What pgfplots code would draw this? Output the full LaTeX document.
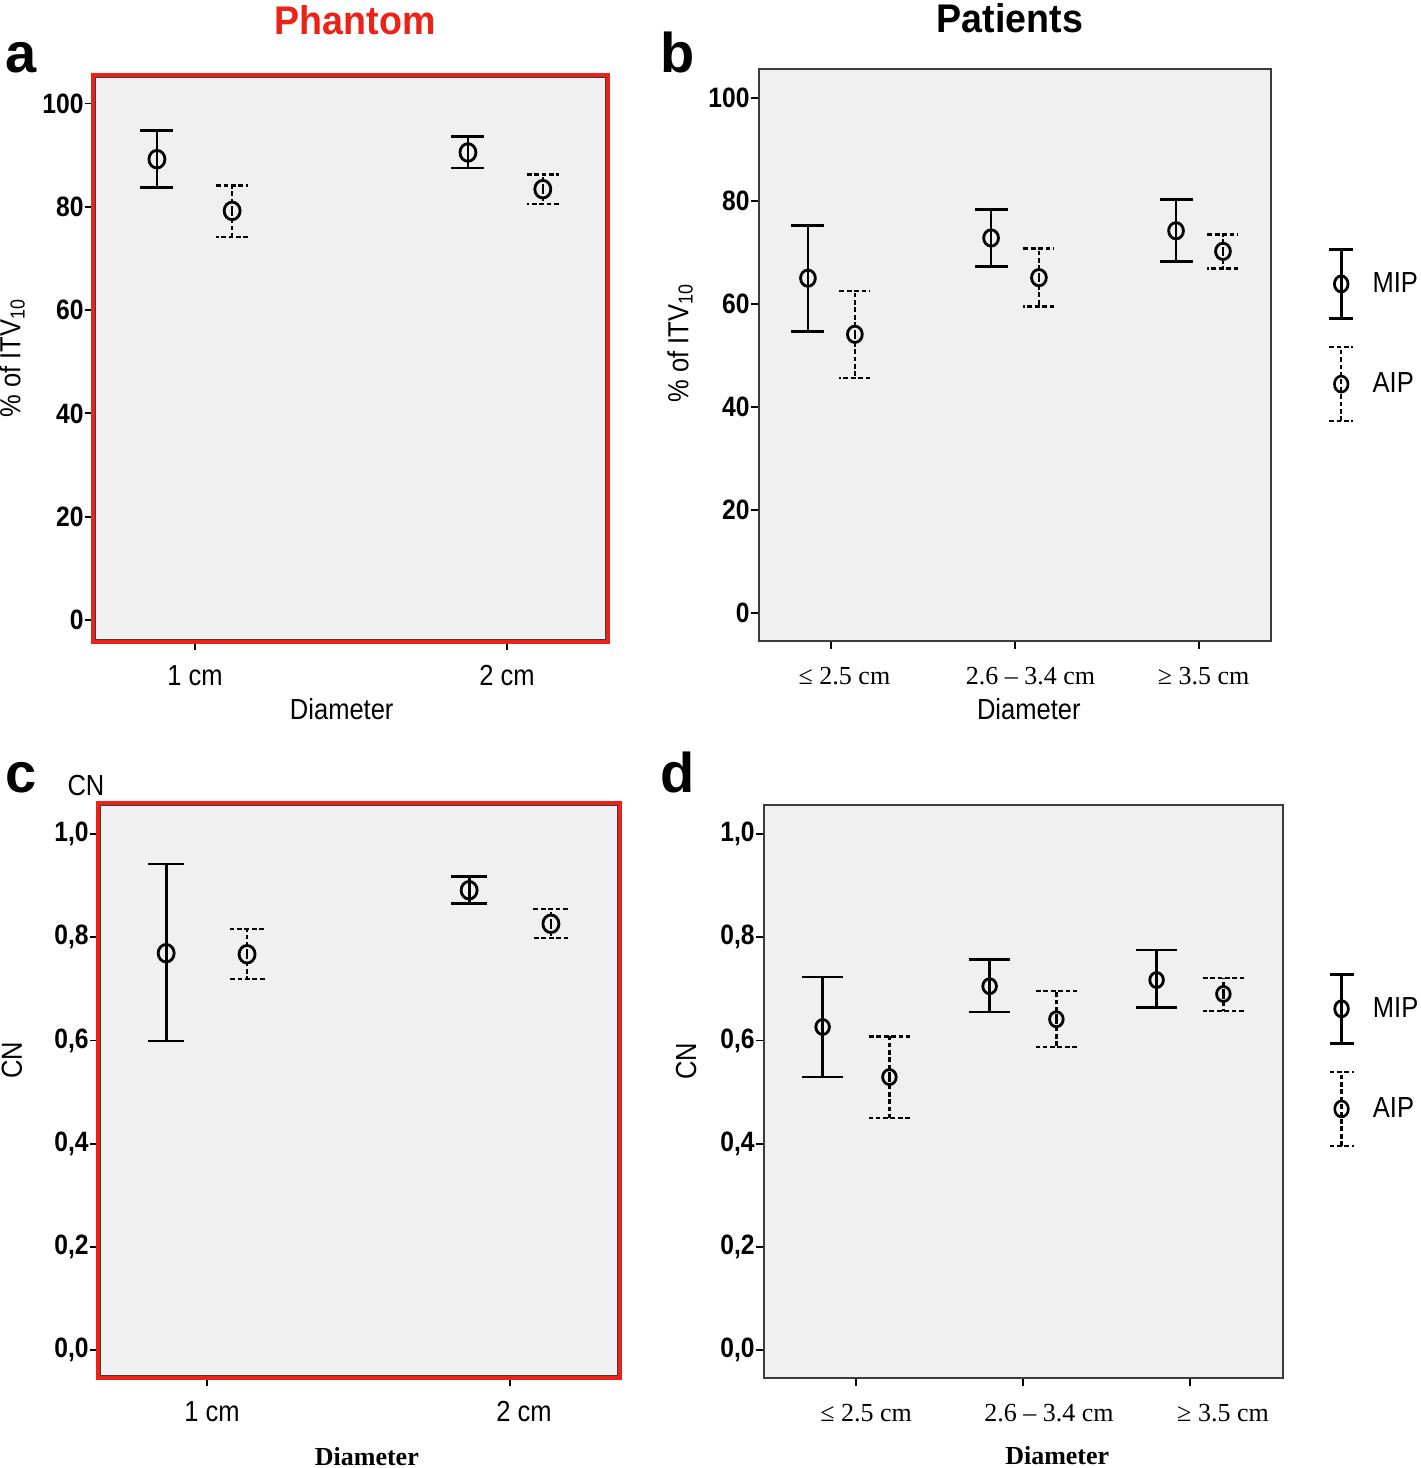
\documentclass[border=0pt]{standalone}
\usepackage{fontspec}
\setmainfont{Liberation Serif}
\newfontfamily\nsans[FakeStretch=0.88]{Liberation Sans}
\newfontfamily\hsans{Liberation Sans}
\newfontfamily\tsans[FakeStretch=0.94]{Liberation Sans}
\usepackage{pgfplots}
\pgfplotsset{compat=1.18}

\definecolor{bg}{RGB}{240,240,241}
\definecolor{frame}{RGB}{60,60,60}
\definecolor{pred}{RGB}{236,34,24}
\newcommand\lab{\nsans\fontsize{14.5}{16}\selectfont}
\newcommand\tkl{\nsans\bfseries\fontsize{14}{16}\selectfont}
\newcommand\srf{\rmfamily\fontsize{13}{15}\selectfont}

\pgfplotsset{
  panel/.style={
    scale only axis, clip=false,
    axis background/.style={fill=bg},
    axis line style={draw=frame, line width=1pt},
    tick align=outside, tick pos=left, major tick length=4pt,
    tick style={black, line width=0.9pt},
    /pgf/number format/assume math mode=true,
    yticklabel style={font=\tkl, inner sep=0.5pt},
    xticklabel style={anchor=base, yshift=-17.5pt},
    ylabel style={font=\lab, anchor=center},
    xlabel style={anchor=center},
    xtick=data,
  },
  redframe/.style={axis line style={draw=pred, line width=1.7pt}},
  mip/.style 2 args={only marks, black, mark=o, mark size=#1,
    mark options={solid, line width=1.4pt, yscale=1.1},
    /pgfplots/error bars/y dir=both, /pgfplots/error bars/y explicit,
    /pgfplots/error bars/error bar style={solid, line width=1.4pt},
    /pgfplots/error bars/error mark options={rotate=90, solid, line width=1.4pt, mark size=#2}},
  aip/.style 2 args={only marks, black, mark=o, mark size=#1,
    mark options={solid, line width=1.4pt, yscale=1.1},
    /pgfplots/error bars/y dir=both, /pgfplots/error bars/y explicit,
    /pgfplots/error bars/error bar style={line width=1.25pt, dash pattern=on 2.4pt off 1.3pt},
    /pgfplots/error bars/error mark options={rotate=90, line width=1.25pt, dash pattern=on 2.4pt off 1.3pt, mark size=#2}},
  mipleg/.style={legend image code/.code={
    \draw[line width=1.4pt] (6pt,-17.25pt) -- (6pt,17.25pt)
      (0pt,-17.25pt) -- (12pt,-17.25pt) (0pt,17.25pt) -- (12pt,17.25pt);
    \draw[line width=1.4pt] (6pt,0pt) ellipse (3.4pt and 4pt);
    \path (21.5pt,0pt);}},
  aipleg/.style={legend image code/.code={
    \draw[line width=1.25pt, dash pattern=on 2.4pt off 1.3pt] (6pt,-18.5pt) -- (6pt,18.5pt)
      (0pt,-18.5pt) -- (12pt,-18.5pt) (0pt,18.5pt) -- (12pt,18.5pt);
    \draw[line width=1.3pt] (6pt,0pt) ellipse (3.4pt and 4pt);
    \path (21.5pt,0pt);}},
  legstyle/.style={legend style={draw=none, fill=none, inner sep=0pt, outer sep=0pt,
    row sep=13pt, column sep=0pt, font=\lab, nodes={inner sep=0pt}},
    legend cell align=left},
}

\begin{document}
\begin{tikzpicture}
\path[use as bounding box] (0pt,0pt) rectangle (710pt,-734pt);

% titles and panel letters
\node[font=\tsans\bfseries\fontsize{20}{24}\selectfont, text=pred] at (177.5pt,-10pt) {Phantom};
\node[font=\tsans\bfseries\fontsize{20}{24}\selectfont] at (505pt,-9pt) {Patients};
\node[font=\hsans\bfseries\fontsize{28}{30}\selectfont, anchor=base west, inner sep=0pt] at (2.5pt,-36pt) {a};
\node[font=\hsans\bfseries\fontsize{28}{30}\selectfont, anchor=base west, inner sep=0pt] at (330pt,-36pt) {b};
\node[font=\hsans\bfseries\fontsize{28}{30}\selectfont, anchor=base west, inner sep=0pt] at (2.5pt,-396pt) {c};
\node[font=\hsans\bfseries\fontsize{28}{30}\selectfont, anchor=base west, inner sep=0pt] at (330pt,-396pt) {d};
\node[font=\lab] at (43pt,-393pt) {CN};

% a: phantom, % of ITV10
\begin{axis}[panel, redframe,
  at={(46.5pt,-321pt)}, anchor=south west, width=257.5pt, height=283.5pt,
  xmin=0.673, xmax=2.324, ymin=-4.26, ymax=105.5,
  xtick={1,2}, xticklabels={1 cm,2 cm}, xticklabel style={font=\lab},
  ytick={0,20,40,60,80,100},
  xlabel={\lab Diameter}, xlabel style={at={(axis description cs:0.483,-0.118)}},
  ylabel={\% of ITV\textsubscript{10}}, ylabel style={at={(axis description cs:-0.157,0.501)}},
]
\draw[frame, line width=0.6pt] ([shift={(1.2pt,1.2pt)}]rel axis cs:0,0) rectangle ([shift={(-1.2pt,-1.2pt)}]rel axis cs:1,1);
\addplot[mip={4pt}{8.25pt}] coordinates {
  (0.878,89.2) += (0,5.6) -= (0,5.5)
  (1.875,90.5) += (0,3.1) -= (0,3.0)
};
\addplot[aip={4pt}{8pt}] coordinates {
  (1.119,79.2) += (0,4.9) -= (0,5.1)
  (2.115,83.4) += (0,2.8) -= (0,2.9)
};
\end{axis}

% b: patients, % of ITV10
\begin{axis}[panel, legstyle,
  at={(379.5pt,-320.5pt)}, anchor=south west, width=256pt, height=286pt,
  xmin=-0.391, xmax=2.391, ymin=-5.44, ymax=105.6,
  xtick={0,1,2}, xticklabels={{\kern13.5pt≤ 2.5 cm},{\kern15.5pt2.6 – 3.4 cm},{\kern4.5pt≥ 3.5 cm}},
  xticklabel style={font=\srf},
  ytick={0,20,40,60,80,100},
  xlabel={\lab Diameter}, xlabel style={at={(axis description cs:0.527,-0.119)}},
  ylabel={\% of ITV\textsubscript{10}}, ylabel style={at={(axis description cs:-0.154,0.521)}},
  legend style={at={(axis description cs:1.111,0.687)}, anchor=north west},
]
\addplot[mip={3.7pt}{8.25pt}, mipleg] coordinates {
  (-0.125,65.0) += (0,10.2) -= (0,10.4)
  (0.87,72.8) += (0,5.5) -= (0,5.6)
  (1.875,74.2) += (0,6.0) -= (0,6.0)
};
\addlegendentry{MIP}
\addplot[aip={3.7pt}{7.75pt}, aipleg] coordinates {
  (0.13,54.1) += (0,8.4) -= (0,8.5)
  (1.13,65.1) += (0,5.7) -= (0,5.6)
  (2.13,70.2) += (0,3.3) -= (0,3.3)
};
\addlegendentry{AIP}
\end{axis}

% c: phantom, CN
\begin{axis}[panel, redframe,
  at={(49pt,-689pt)}, anchor=south west, width=261pt, height=287.5pt,
  xmin=0.640, xmax=2.363, ymin=-0.054, ymax=1.060,
  xtick={1,2}, xticklabels={{\kern5pt1 cm},{\kern14pt2 cm}}, xticklabel style={font=\lab},
  ytick={0,0.2,0.4,0.6,0.8,1.0},
  yticklabel style={/pgf/number format/.cd, use comma, fixed, fixed zerofill, precision=1},
  xlabel={\srf\bfseries Diameter}, xlabel style={at={(axis description cs:0.515,-0.136)}},
  ylabel={CN}, ylabel style={at={(axis description cs:-0.165,0.553)}},
]
\draw[frame, line width=0.6pt] ([shift={(1.2pt,1.2pt)}]rel axis cs:0,0) rectangle ([shift={(-1.2pt,-1.2pt)}]rel axis cs:1,1);
\addplot[mip={4pt}{9pt}] coordinates {
  (0.865,0.769) += (0,0.173) -= (0,0.170)
  (1.865,0.891) += (0,0.026) -= (0,0.025)
};
\addplot[aip={4pt}{8.75pt}] coordinates {
  (1.132,0.767) += (0,0.049) -= (0,0.048)
  (2.135,0.826) += (0,0.029) -= (0,0.028)
};
\end{axis}

% d: patients, CN
\begin{axis}[panel, legstyle,
  at={(382pt,-689pt)}, anchor=south west, width=259.5pt, height=286.5pt,
  xmin=-0.551, xmax=2.557, ymin=-0.054, ymax=1.056,
  xtick={0,1,2}, xticklabels={{\kern10pt≤ 2.5 cm},{\kern26pt2.6 – 3.4 cm},{\kern33pt≥ 3.5 cm}},
  xticklabel style={font=\srf},
  ytick={0,0.2,0.4,0.6,0.8,1.0},
  yticklabel style={/pgf/number format/.cd, use comma, fixed, fixed zerofill, precision=1},
  xlabel={\srf\bfseries Diameter}, xlabel style={at={(axis description cs:0.565,-0.136)}},
  ylabel={CN}, ylabel style={at={(axis description cs:-0.150,0.553)}},
  legend style={at={(axis description cs:1.087,0.707)}, anchor=north west},
]
\addplot[mip={3.4pt}{10.25pt}, mipleg] coordinates {
  (-0.2,0.626) += (0,0.097) -= (0,0.097)
  (0.80,0.705) += (0,0.051) -= (0,0.050)
  (1.80,0.717) += (0,0.058) -= (0,0.054)
};
\addlegendentry{MIP}
\addplot[aip={3.4pt}{10.25pt}, aipleg] coordinates {
  (0.2,0.529) += (0,0.079) -= (0,0.079)
  (1.2,0.641) += (0,0.055) -= (0,0.054)
  (2.2,0.690) += (0,0.031) -= (0,0.033)
};
\addlegendentry{AIP}
\end{axis}
\end{tikzpicture}
\end{document}
